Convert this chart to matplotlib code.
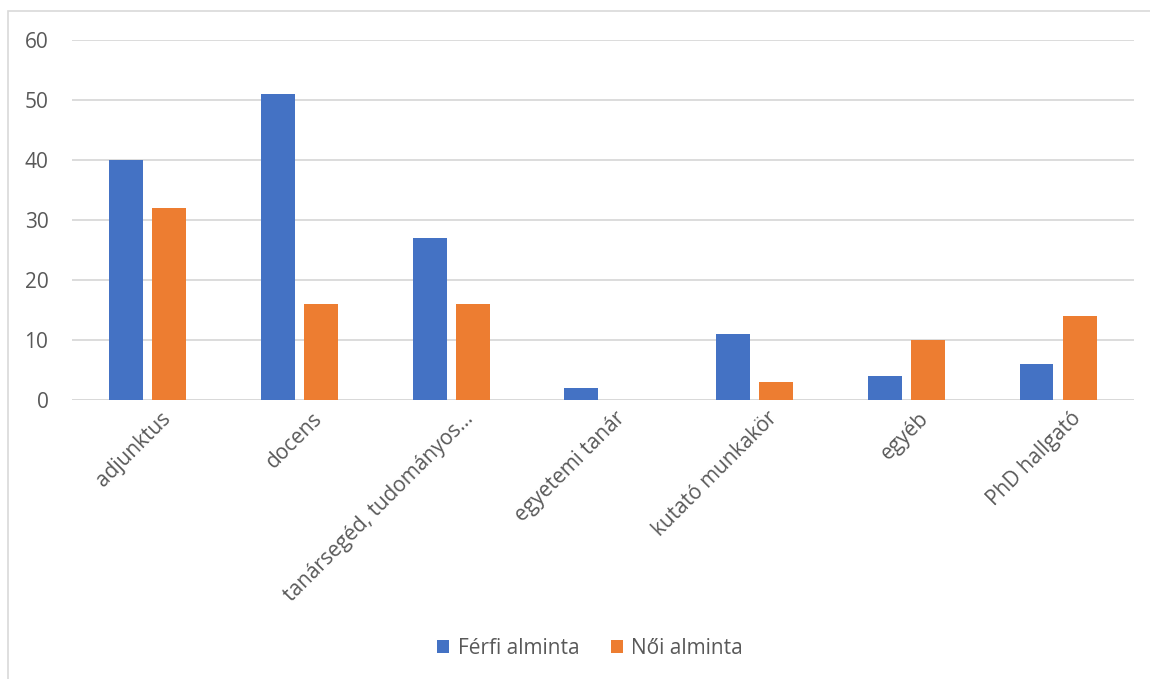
import numpy as np
import matplotlib.pyplot as plt
from matplotlib.patches import Rectangle
from matplotlib.transforms import offset_copy

categories = ["adjunktus", "docens", "tanársegéd, tudományos…", "egyetemi tanár",
              "kutató munkakör", "egyéb", "PhD hallgató"]
ferfi = [40, 51, 27, 2, 11, 4, 6]
noi = [32, 16, 16, 0, 3, 10, 14]
series_names = ["Férfi alminta", "Női alminta"]
yticks = [0, 10, 20, 30, 40, 50, 60]

blue = "#4472C4"
orange = "#ED7D31"
text_col = "#595959"
grid_col = "#D9D9D9"
fs = 15

plt.rcParams["font.family"] = ["Open Sans", "DejaVu Sans"]

fig = plt.figure(figsize=(11.5, 6.79), dpi=100)
ax = fig.add_axes([0.0626, 0.4109, 0.9234, 0.5302])

x = np.arange(len(categories))
w = 0.224
gap = 0.06
ax.bar(x - (w + gap) / 2, ferfi, width=w, color=blue, label=series_names[0], zorder=3)
ax.bar(x + (w + gap) / 2, noi, width=w, color=orange, label=series_names[1], zorder=3)

ax.set_xlim(-0.5, len(categories) - 0.5)
ax.set_ylim(0, 60)
ax.set_yticks(yticks)
ax.yaxis.grid(True, color=grid_col, linewidth=1.3, zorder=0)
for s in ax.spines.values():
    s.set_visible(False)
ax.axhline(0, color=grid_col, linewidth=1.3, zorder=2)
ax.tick_params(axis="both", length=0, labelsize=fs, colors=text_col)
ax.tick_params(axis="y", pad=17)

ax.set_xticks(x)
ax.set_xticklabels([])
trans = offset_copy(ax.get_xaxis_transform(), fig=fig, x=12, y=-8, units="dots")
for xi, lab in zip(x, categories):
    ax.text(xi, 0, lab, transform=trans, rotation=45, ha="right", va="top",
            rotation_mode="anchor", fontsize=fs, color=text_col)

# chart border (runs off the right and bottom edges, as in the crop)
fig.patches.append(Rectangle((8 / 1150, -0.01), 1.0, 1 - 11 / 679 + 0.01,
                             transform=fig.transFigure, fill=False,
                             edgecolor=grid_col, linewidth=1.2))

leg = fig.legend(loc="center", bbox_to_anchor=(0.513, 1 - 648 / 679), ncol=2,
                 frameon=False, fontsize=fs, handlelength=0.6, handleheight=0.6,
                 handletextpad=0.4, columnspacing=1.5)
for t in leg.get_texts():
    t.set_color(text_col)

fig.savefig("out.png", dpi=100)
